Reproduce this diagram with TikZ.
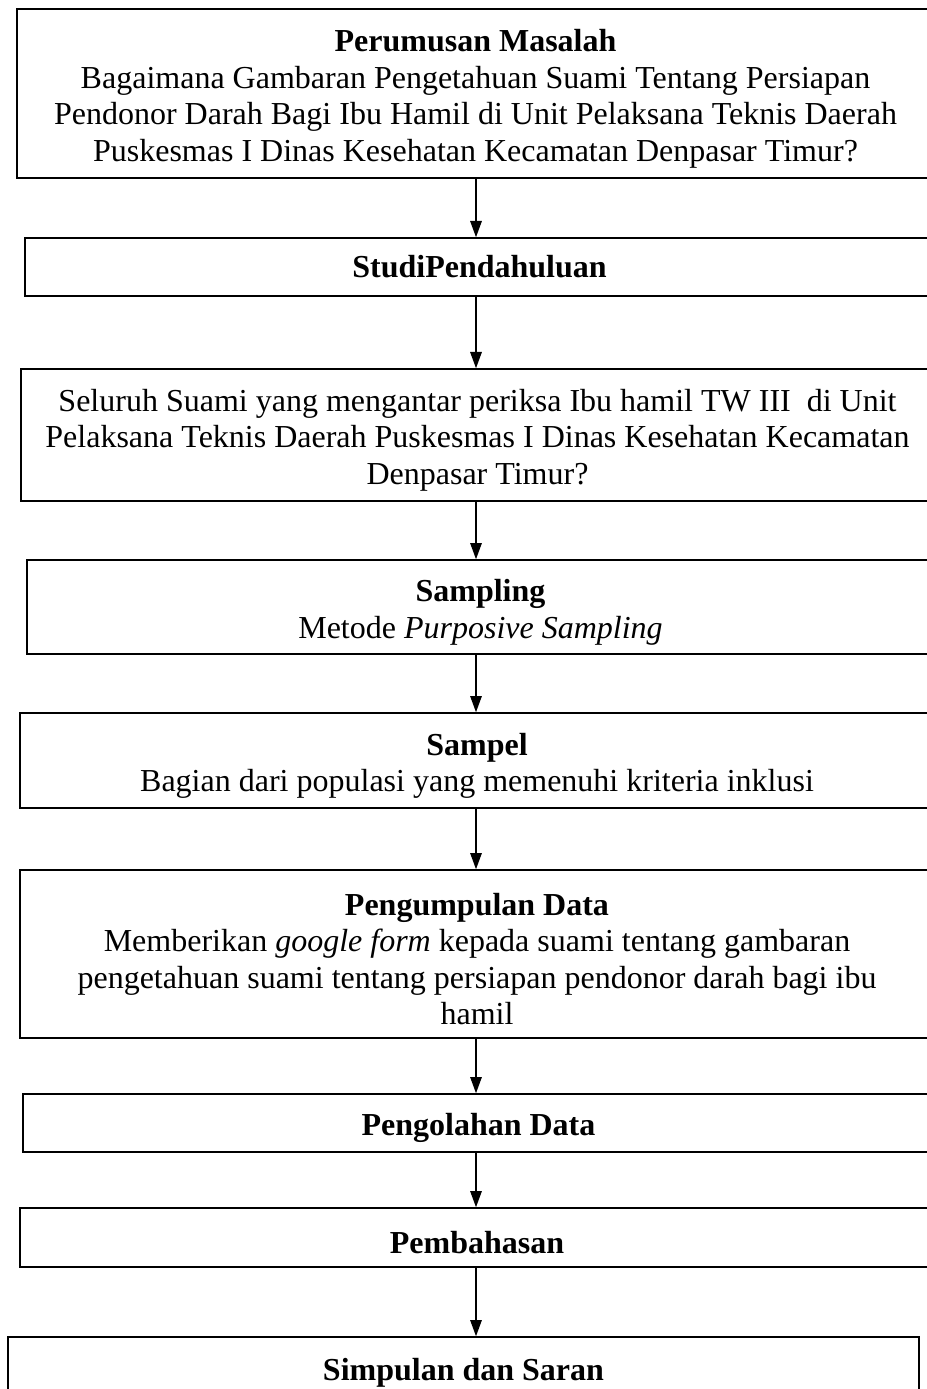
\documentclass[tikz,border=0pt]{standalone}
\usepackage{fontspec}
\setmainfont{Liberation Serif}
\usepackage{tikz}
\usetikzlibrary{positioning, arrows.meta}
\newcommand{\topstrut}{\rule{0pt}{13pt}}

\begin{document}
\begin{tikzpicture}[
      box/.style={draw, line width=0.6pt, align=center, inner sep=2pt,
                  font=\fontsize{12.8}{14.6}\selectfont},
      arr/.style={-{Triangle[length=6.5pt, width=4.6pt]}, line width=0.6pt},
    ]
    \useasboundingbox (0,0) rectangle (370.4pt,-555.6pt);
    \coordinate (axis) at (190.4pt,0);

    % ── main flow ──
    \node[box, anchor=north, minimum width=366.8pt, minimum height=67.6pt]
          (rumusan) at (190.2pt,-3.3pt)
          {\topstrut\textbf{Perumusan Masalah}\\
           Bagaimana Gambaran Pengetahuan Suami Tentang Persiapan\\
           Pendonor Darah Bagi Ibu Hamil di Unit Pelaksana Teknis Daerah\\
           Puskesmas I Dinas Kesehatan Kecamatan Denpasar Timur?};
    \node[box, below=23.4pt of rumusan, xshift=1.6pt, minimum width=363.6pt,
          minimum height=23.2pt] (studi) {\textbf{StudiPendahuluan}};
    \node[box, below=28.6pt of studi, xshift=-0.8pt, minimum width=365.2pt,
          minimum height=52.8pt] (populasi)
          {\topstrut Seluruh Suami yang mengantar periksa Ibu hamil TW III \ di Unit\\
           Pelaksana Teknis Daerah Puskesmas I Dinas Kesehatan Kecamatan\\
           Denpasar Timur?};
    \node[box, below=23pt of populasi, xshift=1.2pt, minimum width=362.8pt,
          minimum height=37.6pt] (sampling)
          {\topstrut\textbf{Sampling}\\ Metode \textit{Purposive Sampling}};
    \node[box, below=23pt of sampling, xshift=-1.4pt, minimum width=365.6pt,
          minimum height=38pt] (sampel)
          {\topstrut\textbf{Sampel}\\ Bagian dari populasi yang memenuhi kriteria inklusi};
    \node[box, below=24.2pt of sampel, minimum width=365.6pt,
          minimum height=67.2pt] (kumpul)
          {\topstrut\textbf{Pengumpulan Data}\\
           Memberikan \textit{google form} kepada suami tentang gambaran\\
           pengetahuan suami tentang persiapan pendonor darah bagi ibu\\
           hamil};
    \node[box, below=21.8pt of kumpul, xshift=0.6pt, minimum width=364.4pt,
          minimum height=23.2pt] (olah) {\topstrut\textbf{Pengolahan Data}};
    \node[box, below=21.8pt of olah, xshift=-0.6pt, minimum width=365.6pt,
          minimum height=23.6pt] (bahas) {\topstrut\textbf{Pembahasan}};
    \node[box, below=27.4pt of bahas, xshift=-5.4pt, minimum width=364.4pt,
          minimum height=24.8pt] (simpul) {\topstrut\textbf{Simpulan dan Saran}};

    % ── arrows ──
    \draw[arr] (rumusan.south -| axis) -- (studi.north -| axis);
    \draw[arr] (studi.south -| axis) -- (populasi.north -| axis);
    \draw[arr] (populasi.south -| axis) -- (sampling.north -| axis);
    \draw[arr] (sampling.south -| axis) -- (sampel.north -| axis);
    \draw[arr] (sampel.south -| axis) -- (kumpul.north -| axis);
    \draw[arr] (kumpul.south -| axis) -- (olah.north -| axis);
    \draw[arr] (olah.south -| axis) -- (bahas.north -| axis);
    \draw[arr] (bahas.south -| axis) -- (simpul.north -| axis);
  \end{tikzpicture}
\end{document}
